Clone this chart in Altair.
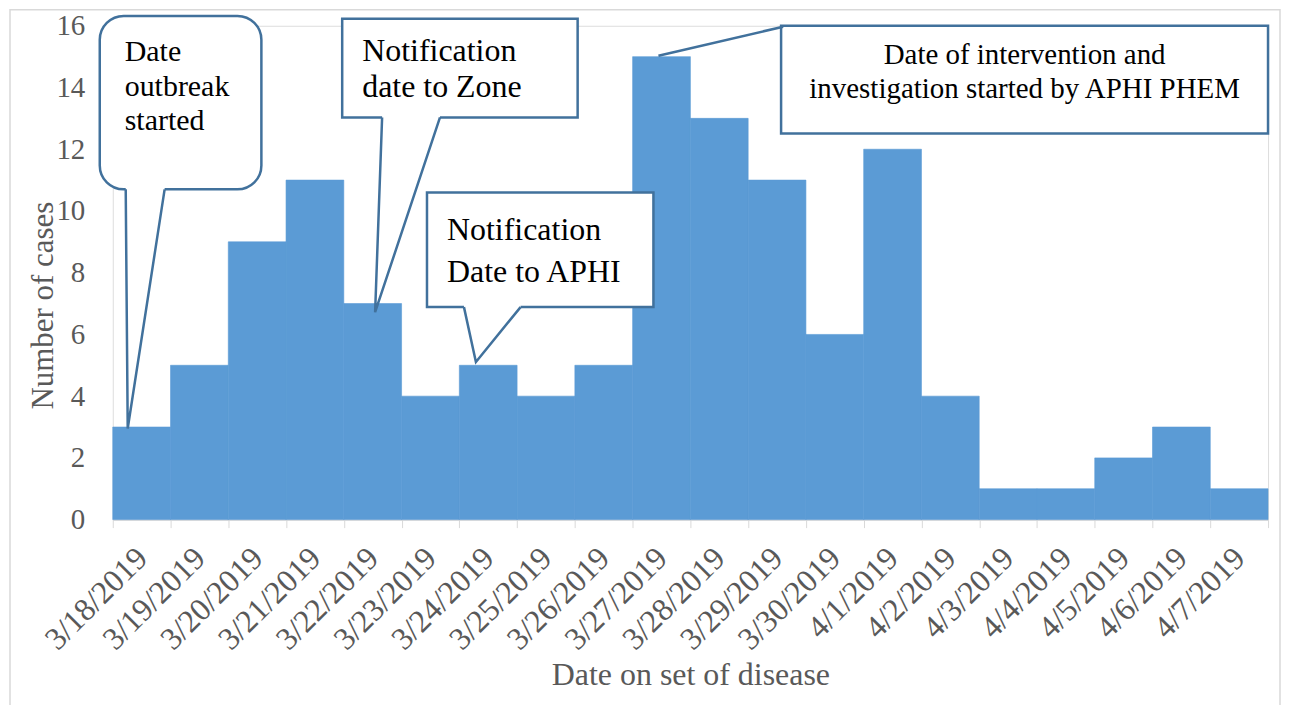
import altair as alt
import pandas as pd

# ---- data ----
dates = ["3/18/2019", "3/19/2019", "3/20/2019", "3/21/2019", "3/22/2019",
         "3/23/2019", "3/24/2019", "3/25/2019", "3/26/2019", "3/27/2019",
         "3/28/2019", "3/29/2019", "3/30/2019", "4/1/2019", "4/2/2019",
         "4/3/2019", "4/4/2019", "4/5/2019", "4/6/2019", "4/7/2019"]
cases = [3, 5, 9, 11, 7, 4, 5, 4, 5, 15, 13, 11, 6, 12, 4, 1, 1, 2, 3, 1]

# ---- callout annotations (x in bar-index units 0..20, y in case units) ----
round_box = {"u1": [-0.225], "u2": [2.573], "v1": [16.32], "v2": [10.70]}
square_boxes = {"u1": [3.972, 5.44, 11.57], "u2": [8.048, 9.36, 20.0],
                "v1": [16.23, 10.6, 16.0], "v2": [13.03, 6.885, 12.51]}
# gaps in the box border where the pointers attach
gap_u1 = [0.2245, 4.663, 6.08]
gap_u2 = [0.898, 5.665, 7.06]
gap_v = [10.70, 13.03, 6.885]
# pointer tips
tip_u = [0.259, 4.542, 6.287]
tip_v = [2.95, 6.72, 5.107]
# straight leader line for last callout
leader_u = [9.447, 11.606]
leader_v = [15.03, 15.97]

label_lines = ["Date", "outbreak", "started",
               "Notification", "date to Zone",
               "Notification", "Date to APHI",
               "Date of intervention and", "investigation started by APHI PHEM"]
label_u = [0.207, 0.207, 0.207, 4.318, 4.318, 5.786, 5.786, 15.786, 15.786]
label_v = [14.85, 13.72, 12.61, 14.87, 13.70, 9.05, 7.70, 14.77, 13.67]
label_align = ["left"] * 7 + ["center"] * 2
label_size = [30, 30, 30, 32, 32, 32, 32, 29, 29]

FONT = "'Liberation Serif', 'Times New Roman', 'DejaVu Serif', serif"
GREY = "#595959"
BAR = "#5b9bd5"
CALLOUT = "#41719c"

bars_df = pd.DataFrame({"date": dates, "cases": cases})
ydom = alt.Scale(domain=[0, 16], nice=False)
udom = alt.Scale(domain=[0, 20], nice=False, zero=False)

bars = alt.Chart(bars_df).mark_bar(color=BAR, stroke=BAR, strokeWidth=0.6).encode(
    x=alt.X("date:N", sort=dates,
            scale=alt.Scale(paddingInner=0, paddingOuter=0),
            axis=alt.Axis(title="Date on set of disease", labelAngle=-45,
                          labelAlign="right", labelBaseline="middle",
                          labelFont=FONT, labelFontSize=32, labelColor=GREY,
                          labelPadding=25, tickBand="extent", tickColor="#d9d9d9",
                          tickSize=8, domainColor="#d9d9d9", domainWidth=1.5,
                          grid=False, titleFont=FONT, titleFontSize=32,
                          titleFontWeight="normal", titleColor=GREY,
                          titleY=155, titleBaseline="middle")),
    y=alt.Y("cases:Q", scale=ydom,
            axis=alt.Axis(title="Number of cases", values=list(range(0, 17, 2)),
                          labelFont=FONT, labelFontSize=29, labelColor=GREY,
                          labelPadding=28, ticks=False, domain=False, grid=False,
                          titleFont=FONT, titleFontSize=31, titleFontWeight="normal",
                          titleColor=GREY, titleX=-69, titleY=280,
                          titleBaseline="middle")),
)

frame = alt.Chart(pd.DataFrame({"a": [0]})).mark_rect(
    fill=None, stroke="#d9d9d9", strokeWidth=1.5).encode(
    x=alt.value(-103), x2=alt.value(1170), y=alt.value(-16), y2=alt.value(700))

rb = alt.Chart(pd.DataFrame(round_box)).mark_rect(
    fill="white", stroke=CALLOUT, strokeWidth=2.5, cornerRadius=24).encode(
    x=alt.X("u1:Q", scale=udom, axis=None), x2="u2:Q",
    y=alt.Y("v1:Q", scale=ydom, axis=None), y2="v2:Q")

sb = alt.Chart(pd.DataFrame(square_boxes)).mark_rect(
    fill="white", stroke=CALLOUT, strokeWidth=2.5).encode(
    x=alt.X("u1:Q", scale=udom, axis=None), x2="u2:Q",
    y=alt.Y("v1:Q", scale=ydom, axis=None), y2="v2:Q")

gaps = alt.Chart(pd.DataFrame({"u1": gap_u1, "u2": gap_u2, "v": gap_v})).mark_rule(
    color="white", strokeWidth=5).encode(
    x=alt.X("u1:Q", scale=udom, axis=None), x2="u2:Q",
    y=alt.Y("v:Q", scale=ydom, axis=None))

rows = []
for i in range(len(tip_u)):
    rows.append({"id": i, "o": 0, "u": gap_u1[i], "v": gap_v[i]})
    rows.append({"id": i, "o": 1, "u": tip_u[i], "v": tip_v[i]})
    rows.append({"id": i, "o": 2, "u": gap_u2[i], "v": gap_v[i]})
for j in range(len(leader_u)):
    rows.append({"id": 9, "o": j, "u": leader_u[j], "v": leader_v[j]})
pointers = alt.Chart(pd.DataFrame(rows)).mark_line(
    color=CALLOUT, strokeWidth=2.5, strokeJoin="miter").encode(
    x=alt.X("u:Q", scale=udom, axis=None),
    y=alt.Y("v:Q", scale=ydom, axis=None),
    detail="id:N", order="o:Q")

lab_df = pd.DataFrame({"t": label_lines, "u": label_u, "v": label_v,
                       "al": label_align, "s": label_size})
texts_left = alt.Chart(lab_df[lab_df["al"] == "left"]).mark_text(
    font=FONT, color="black", align="left", baseline="alphabetic").encode(
    x=alt.X("u:Q", scale=udom, axis=None),
    y=alt.Y("v:Q", scale=ydom, axis=None), text="t:N",
    size=alt.Size("s:Q", scale=None, legend=None))
texts_center = alt.Chart(lab_df[lab_df["al"] == "center"]).mark_text(
    font=FONT, color="black", align="center", baseline="alphabetic").encode(
    x=alt.X("u:Q", scale=udom, axis=None),
    y=alt.Y("v:Q", scale=ydom, axis=None), text="t:N",
    size=alt.Size("s:Q", scale=None, legend=None))

annot = alt.layer(rb, sb, gaps, pointers, texts_left, texts_center)

chart = alt.layer(bars, frame, annot).resolve_scale(
    x="independent", y="independent").properties(
    width=1158, height=495,
    autosize=alt.AutoSizeParams(type="none"),
    padding={"left": 105, "top": 17, "right": 15, "bottom": 185},
).configure_view(stroke=None).configure(background="white")

chart.save("out.html", embed_options={"renderer": "svg", "actions": False})
